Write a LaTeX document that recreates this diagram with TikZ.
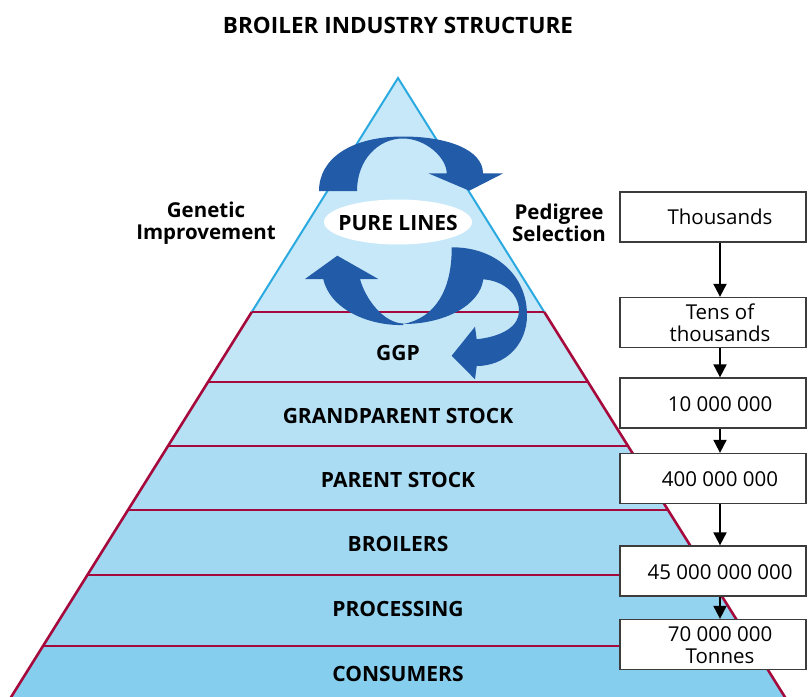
\documentclass[tikz,border=0pt]{standalone}
\usepackage{fontspec}
\setmainfont{Open Sans}
\usetikzlibrary{arrows.meta,shapes.geometric}
\definecolor{cband0}{RGB}{199,232,248}
\definecolor{cband1}{RGB}{195,230,247}
\definecolor{cband2}{RGB}{182,225,245}
\definecolor{cband3}{RGB}{170,220,243}
\definecolor{cband4}{RGB}{160,216,242}
\definecolor{cband5}{RGB}{147,211,240}
\definecolor{cband6}{RGB}{134,206,238}
\definecolor{crim}{RGB}{166,10,60}
\definecolor{cyanline}{RGB}{41,169,224}
\definecolor{arrowblue}{RGB}{34,92,168}
\definecolor{boxline}{RGB}{60,60,60}
\tikzset{
  bandlabel/.style={font=\fontsize{21}{24}\selectfont\bfseries, text=black, inner sep=0pt},
  titlelabel/.style={font=\fontsize{22.5}{26}\selectfont\bfseries, text=black, inner sep=0pt},
  sidelabel/.style={font=\fontsize{20.5}{22}\selectfont\bfseries, text=black, align=center, inner sep=0pt},
  numbox/.style={draw=boxline, line width=1.3pt, fill=white, minimum width=186pt, minimum height=50pt, inner sep=0pt},
  numtext/.style={font=\fontsize{20.5}{22}\selectfont, text=black, align=center, inner sep=0pt},
  flowarrow/.style={draw=black, line width=2pt, -{Triangle[width=13pt,length=13pt]}},
  redline/.style={draw=crim, line width=2.6pt},
}
\begin{document}
\begin{tikzpicture}[x=1pt,y=-1pt]
\useasboundingbox (0,0) rectangle (808,696);
\clip (0,0) rectangle (808,696);
\fill[white] (0,0) rectangle (808,696);
% pyramid bands
\fill[cband0] (398,78) -- (544.25,312) -- (251.75,312) -- cycle;
\fill[cband1] (251.75,312) -- (544.25,312) -- (588,382) -- (208,382) -- cycle;
\fill[cband2] (208,382) -- (588,382) -- (628,446) -- (168,446) -- cycle;
\fill[cband3] (168,446) -- (628,446) -- (668,510) -- (128,510) -- cycle;
\fill[cband4] (128,510) -- (668,510) -- (708.6,575) -- (87.4,575) -- cycle;
\fill[cband5] (87.4,575) -- (708.6,575) -- (753,646) -- (43,646) -- cycle;
\fill[cband6] (43,646) -- (753,646) -- (788,702) -- (8,702) -- cycle;
% outlines
\draw[cyanline, line width=2pt] (251.75,312) -- (398,78) -- (544.25,312);
\draw[redline] (251.75,312) -- (8,702);
\draw[redline] (544.25,312) -- (788,702);
\draw[redline] (251.75,312) -- (544.25,312);
\draw[redline] (208,382) -- (588,382);
\draw[redline] (168,446) -- (628,446);
\draw[redline] (128,510) -- (668,510);
\draw[redline] (87.4,575) -- (708.6,575);
\draw[redline] (43,646) -- (753,646);
% blue cycle arrows
\fill[arrowblue] (319,191) .. controls (319,158) and (352,136.5) .. (403,136.5)
  .. controls (448,136.5) and (483,150) .. (483,173.3)
  -- (503.3,173.3) -- (469.3,190.7) -- (428.3,173.3) -- (446.7,173.3)
  .. controls (446.7,158) and (426,138.5) .. (403,138.5)
  .. controls (378,138.5) and (357,160) .. (357,191) -- cycle;
\fill[arrowblue] (323.3,279) -- (305,279) -- (337.3,255.7) -- (378.3,279) -- (360,279)
  .. controls (365,298) and (383,323) .. (403.3,323.5)
  -- (403.3,325)
  .. controls (370,326) and (330,310) .. (323.3,279) -- cycle;
\fill[arrowblue] (403.3,324) .. controls (435,318) and (452,290) .. (451.7,247.3)
  .. controls (495,247) and (527,275) .. (527,315)
  .. controls (527,345) and (505,366) .. (476.7,366)
  -- (475,379.3) -- (451.7,355.7) -- (475,326.7) -- (476.7,339.3)
  .. controls (505,336) and (519,325) .. (519,311)
  .. controls (519,295) and (505,281) .. (483.3,279.3)
  .. controls (480,305) and (445,324) .. (403.3,324) -- cycle;
% ellipse
\node[ellipse, fill=white, minimum width=148pt, minimum height=45pt, inner sep=0pt] (pure) at (398,222) {};
\node[bandlabel] (purelbl) at (398,223) {PURE LINES};
% title and side labels
\node[titlelabel] (title) at (398,25) {BROILER INDUSTRY STRUCTURE};
\node[sidelabel] (genetic) at (206,223) {Genetic\\Improvement};
\node[sidelabel] (pedigree) at (559,223) {Pedigree\\Selection};
% band labels
\node[bandlabel] (ggp) at (398,353) {GGP};
\node[bandlabel] (gps) at (398,416) {GRANDPARENT STOCK};
\node[bandlabel] (ps) at (398,480) {PARENT STOCK};
\node[bandlabel] (br) at (398,544) {BROILERS};
\node[bandlabel] (pr) at (398,609) {PROCESSING};
\node[bandlabel] (co) at (398,674) {CONSUMERS};
% number boxes
\node[numbox] (b1) at (713,217) {};
\node[numbox] (b2) at (713,322.5) {};
\node[numbox] (b3) at (713,403) {};
\node[numbox] (b4) at (713,478.5) {};
\node[numbox] (b5) at (713,571) {};
\node[numbox] (b6) at (713,644.5) {};
\node[numtext] (t1) at (720,217) {Thousands};
\node[numtext] (t2) at (720,323) {Tens of\\thousands};
\node[numtext] (t3) at (720,404) {10 000 000};
\node[numtext] (t4) at (720,479) {400 000 000};
\node[numtext] (t5) at (720,572) {45 000 000 000};
\node[numtext] (t6) at (720,645) {70 000 000\\Tonnes};
\draw[flowarrow] (b1.south -| t1) -- (b2.north -| t1);
\draw[flowarrow] (b2.south -| t2) -- (b3.north -| t2);
\draw[flowarrow] (b3.south -| t3) -- (b4.north -| t3);
\draw[flowarrow] (b4.south -| t4) -- (b5.north -| t4);
\draw[flowarrow] (b5.south -| t5) -- (b6.north -| t5);
\end{tikzpicture}
\end{document}
